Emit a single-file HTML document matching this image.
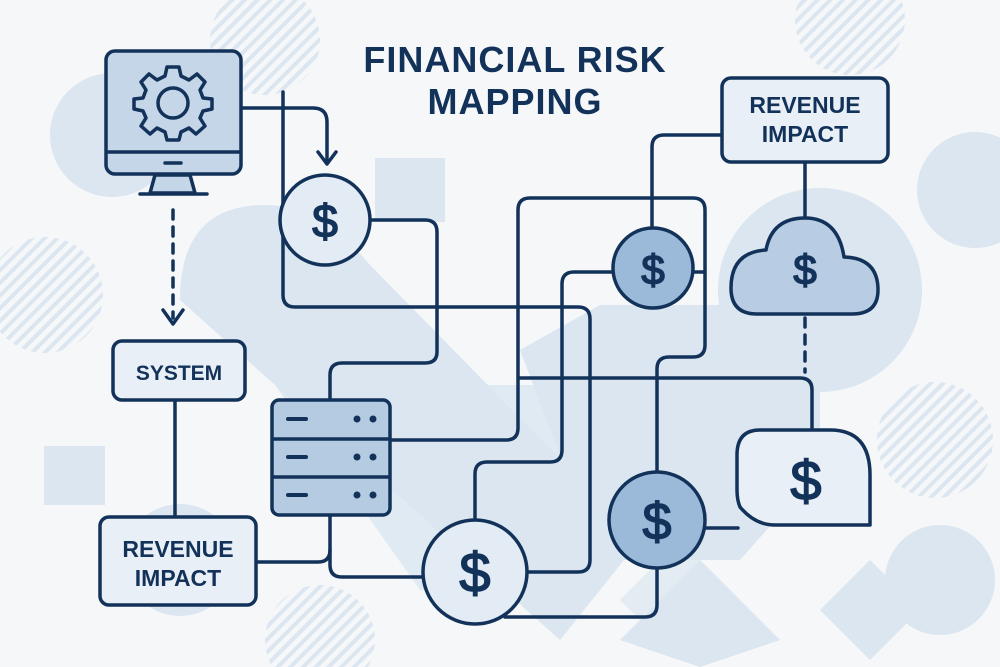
<!DOCTYPE html>
<html><head><meta charset="utf-8"><style>
html,body{margin:0;padding:0;background:#f6f7f8;}
svg{display:block;}
text{font-family:"Liberation Sans",sans-serif;font-weight:bold;fill:#12325a;}
</style></head><body>
<svg width="1000" height="667" viewBox="0 0 1000 667" xmlns="http://www.w3.org/2000/svg">
<defs>
<pattern id="h" width="9" height="9" patternUnits="userSpaceOnUse" patternTransform="rotate(-45)">
<rect width="9" height="4" fill="#dbe6f1"/>
</pattern>
</defs>
<rect width="1000" height="667" fill="#f6f7f8"/>
<g fill="#dbe6f1">
<circle cx="112" cy="135" r="62"/>
<circle cx="180" cy="560" r="56"/>
<circle cx="820" cy="290" r="102"/>
<circle cx="975" cy="190" r="58"/>
<circle cx="940" cy="580" r="55"/>
<rect x="375" y="158" width="70" height="64"/>
<rect x="44" y="446" width="61" height="59"/>
<path d="M180 300 Q180 205 265 205 Q320 205 370 265 L640 540 L560 640 Z"/>
<path d="M275 385 L420 590 L560 590 L560 385 Z" opacity="0.8"/>
<path d="M520 350 L600 305 L820 305 L820 470 L740 560 L600 560 Z"/>
<path d="M700 560 L780 640 L700 667 L620 640 Z"/>
<path d="M870 560 L920 610 L870 660 L820 610 Z"/>
<path d="M620 600 L680 540 L740 600 L680 660 Z" opacity="0.7"/>
</g>
<g fill="url(#h)">
<circle cx="265" cy="40" r="55"/>
<circle cx="45" cy="295" r="58"/>
<circle cx="320" cy="640" r="55"/>
<circle cx="935" cy="440" r="58"/>
<circle cx="850" cy="20" r="55"/>
</g>
<g fill="none" stroke="#12325a" stroke-width="3.5" stroke-linecap="round" stroke-linejoin="round">
<path d="M242 108 H313 Q327 108 327 122 V162"/>
<path d="M318 152 L327 164 L336 152"/>
<path d="M283 92 V295 Q283 307 295 307 H578 Q590 307 590 319 V560 Q590 572 578 572 H528"/>
<path d="M370 220 H425 Q437 220 437 232 V352 Q437 363 425 363 H342 Q330 363 330 375 V400"/>
<path d="M330 515 V565 Q330 577 342 577 H423"/>
<path d="M255 562 H318 Q330 562 330 550"/>
<path d="M390 440 H506 Q518 440 518 428 V210 Q518 198 530 198 H693 Q705 198 705 210 V345 Q705 357 693 357 H669 Q657 357 657 369 V472"/>
<path d="M475 520 V474 Q475 462 487 462 H550 Q562 462 562 450 V284 Q562 272 574 272 H613"/>
<path d="M693 272 H705"/>
<path d="M652 228 V147 Q652 135 664 135 H722"/>
<path d="M520 378 H800 Q812 378 812 390 V430"/>
<path d="M657 568 V605 Q657 617 645 617 H505"/>
<path d="M705 528 H738"/>
<path d="M805 162 V218"/>
<path d="M175 400 V517"/>
<path d="M173 210 V318" stroke-dasharray="9 8"/>
<path d="M163 310 L173 324 L183 310"/>
<path d="M805 318 V372" stroke-dasharray="9 8"/>
</g>
<g stroke="#12325a" stroke-width="3.5" stroke-linejoin="round">
<path d="M155 175 L150 193 H195 L190 175 Z" fill="#c5d6e9"/>
<line x1="140" y1="194" x2="207" y2="194" stroke-linecap="round"/>
<rect x="106" y="51" width="135" height="123" rx="9" fill="#c5d6e9"/>
<line x1="106" y1="152" x2="241" y2="152"/>
<line x1="165" y1="163" x2="181" y2="163" stroke-linecap="round"/>
<g transform="translate(173,103)" fill="#c5d6e9">
<path d="M-6 -36 H6 L8 -27 L16 -23 L24 -29 L32 -21 L27 -13 L30 -5 L39 -4 V6 L30 8 L27 15 L32 23 L23 31 L16 25 L8 29 L6 37 H-6 L-8 29 L-16 25 L-23 31 L-32 23 L-27 15 L-30 8 L-39 6 V-4 L-30 -5 L-27 -13 L-32 -21 L-24 -29 L-16 -23 L-8 -27 Z"/>
<circle r="15"/>
</g>
</g>
<g stroke="#12325a" stroke-width="3.5" fill="#e9eff6">
<rect x="113" y="341" width="132" height="59" rx="9"/>
<rect x="100" y="517" width="156" height="88" rx="9"/>
<rect x="722" y="78" width="166" height="84" rx="9"/>
</g>
<text x="179" y="380" font-size="21" text-anchor="middle">SYSTEM</text>
<text x="178" y="557" font-size="23" text-anchor="middle">REVENUE</text>
<text x="178" y="586" font-size="23" text-anchor="middle">IMPACT</text>
<text x="805" y="113" font-size="23" text-anchor="middle">REVENUE</text>
<text x="805" y="142" font-size="23" text-anchor="middle">IMPACT</text>
<text x="515" y="72" font-size="36" text-anchor="middle" letter-spacing="1">FINANCIAL RISK</text>
<text x="515" y="114" font-size="36" text-anchor="middle" letter-spacing="1">MAPPING</text>
<g stroke="#12325a" stroke-width="3.5" fill="#b5cbe2">
<rect x="272" y="400" width="118" height="115" rx="7"/>
<line x1="272" y1="439" x2="390" y2="439"/>
<line x1="272" y1="477" x2="390" y2="477"/>
</g>
<g stroke="#12325a" stroke-width="4" stroke-linecap="round">
<line x1="288" y1="419" x2="306" y2="419"/><line x1="288" y1="457" x2="306" y2="457"/><line x1="288" y1="495" x2="306" y2="495"/>
</g>
<g fill="#12325a">
<circle cx="357" cy="419" r="3.5"/><circle cx="373" cy="419" r="3.5"/>
<circle cx="357" cy="457" r="3.5"/><circle cx="373" cy="457" r="3.5"/>
<circle cx="357" cy="495" r="3.5"/><circle cx="373" cy="495" r="3.5"/>
</g>
<g stroke="#12325a" stroke-width="3.5" stroke-linejoin="round">
<path d="M757 314 Q731 314 731 288 Q731 252 766 250 Q772 218 805 218 Q838 218 844 257 Q878 258 878 290 Q878 314 852 314 Z" fill="#b8cde3"/>
<path d="M737 455 Q737 430 760 430 H830 Q870 430 870 475 V525 H775 Q755 525 740 507 Q737 500 737 490 Z" fill="#e9eff6"/>
</g>
<g stroke="#12325a" stroke-width="3.5">
<circle cx="325" cy="220" r="45" fill="#e3ebf4"/>
<circle cx="653" cy="268" r="40" fill="#9bb9d8"/>
<circle cx="475" cy="572" r="52" fill="#e3ebf4"/>
<circle cx="657" cy="520" r="48" fill="#9bb9d8"/>
</g>
<g text-anchor="middle" stroke="#12325a" stroke-width="1.5">
<text x="325" y="237" font-size="46" style="font-weight:normal">$</text>
<text x="653" y="284" font-size="42" style="font-weight:normal">$</text>
<text x="475" y="592" font-size="56" style="font-weight:normal">$</text>
<text x="657" y="539" font-size="52" style="font-weight:normal">$</text>
<text x="805" y="284" font-size="42" style="font-weight:normal">$</text>
<text x="806" y="500" font-size="56" style="font-weight:normal">$</text>
</g>
</svg>
</body></html>
